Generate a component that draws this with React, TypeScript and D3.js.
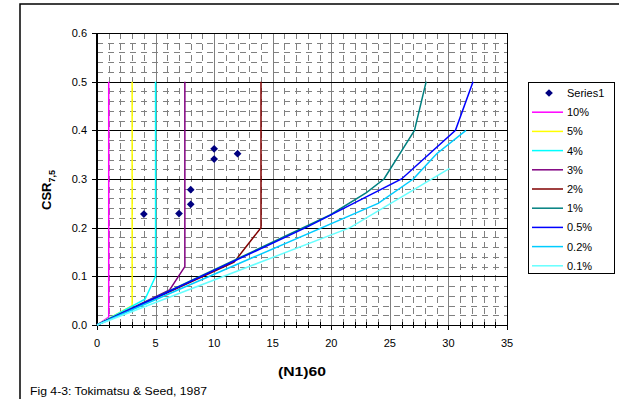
import React from "react";
import * as d3 from "d3";

// observed points (N1)60 vs CSR
const series1X = [4, 7, 8, 8, 10, 10, 12];
const series1Y = [0.228, 0.229, 0.278, 0.248, 0.362, 0.341, 0.352];

// strain curves
const curveNames = ["10%", "5%", "4%", "3%", "2%", "1%", "0.5%", "0.2%", "0.1%"];
const curveColors = ["#FF00FF", "#FFFF00", "#00FFFF", "#800080", "#800000", "#008080", "#0000FF", "#00CCFF", "#66FFFF"];
const curve10 = [[0, 0], [1, 0.016], [1, 0.5]];
const curve5 = [[0, 0], [3, 0.04], [3, 0.5]];
const curve4 = [[0, 0], [4.1, 0.053], [5, 0.1], [5, 0.5]];
const curve3 = [[0, 0], [6.2, 0.072], [7.5, 0.12], [7.5, 0.5]];
const curve2 = [[0, 0], [11.7, 0.129], [14, 0.2], [14, 0.5]];
const curve1 = [[0, 0], [19.9, 0.226], [23, 0.272], [24.5, 0.3], [27.1, 0.4], [28.1, 0.5]];
const curve05 = [[0, 0], [18, 0.202], [26, 0.3], [30.6, 0.4], [32.1, 0.5]];
const curve02 = [[0, 0], [24, 0.25], [27, 0.3], [29, 0.352], [31.5, 0.4]];
const curve01 = [[0, 0], [21.6, 0.2], [30.1, 0.322]];
const curves = [curve10, curve5, curve4, curve3, curve2, curve1, curve05, curve02, curve01];

const xTicks = [0, 5, 10, 15, 20, 25, 30, 35];
const yTicks = [0, 0.1, 0.2, 0.3, 0.4, 0.5, 0.6];

const FONT = "'Liberation Sans', Arial, sans-serif";

export default function App() {
  const x = d3.scaleLinear().domain([0, 35]).range([97, 507]);
  const y = d3.scaleLinear().domain([0, 0.6]).range([325, 33]);
  const px = (v: number) => Math.round(x(v)) + 0.5;
  const py = (v: number) => Math.round(y(v)) + 0.5;
  const line = d3
    .line<number[]>()
    .x((d) => x(d[0]))
    .y((d) => y(d[1]));

  const minorX = d3.range(1, 35).filter((v) => v % 5 !== 0);
  const minorY = d3.range(1, 30).filter((v) => v % 5 !== 0).map((v) => v * 0.02);
  const diamond = d3.symbol(d3.symbolSquare, 30)() as string;

  const legendTop = 82;
  const rowH = 19.2;

  return (
    <div style={{ position: "fixed", left: 0, top: 0 }}>
      <svg width={619} height={399} style={{ display: "block", background: "#fff" }}>
        {/* outer chart frame */}
        <rect x={20} y={4} width={640} height={420} fill="none" stroke="#000" strokeWidth={1.5} />

        {/* minor grid */}
        <g stroke="#808080" strokeWidth={1} strokeDasharray="6 5">
          {minorX.map((v) => (
            <line key={"mx" + v} x1={px(v)} x2={px(v)} y1={y(0.6)} y2={y(0)} />
          ))}
          {minorY.map((v, i) => (
            <line key={"my" + i} x1={x(0)} x2={x(35)} y1={py(v)} y2={py(v)} />
          ))}
        </g>
        {/* major grid */}
        <g strokeWidth={1}>
          {xTicks.slice(1, -1).map((v) => (
            <line key={"gx" + v} stroke="#808080" x1={px(v)} x2={px(v)} y1={y(0.6)} y2={y(0)} />
          ))}
          {yTicks.slice(1).map((v) => (
            <line key={"gy" + v} stroke="#000" x1={x(0)} x2={x(35)} y1={py(v)} y2={py(v)} />
          ))}
          <line stroke="#000" x1={px(35)} x2={px(35)} y1={y(0.6)} y2={y(0)} />
        </g>

        {/* axes */}
        <g stroke="#000">
          <line x1={x(0)} x2={x(35)} y1={py(0)} y2={py(0)} strokeWidth={1} />
          <line x1={x(0)} x2={x(0)} y1={y(0.6)} y2={y(0) + 1} strokeWidth={2} />
          {xTicks.map((v) => (
            <line key={"tx" + v} x1={px(v)} x2={px(v)} y1={y(0)} y2={y(0) + 5} />
          ))}
          {minorX.map((v) => (
            <line key={"tmx" + v} x1={px(v)} x2={px(v)} y1={y(0) - 3} y2={y(0) + 3} />
          ))}
          {yTicks.map((v) => (
            <line key={"ty" + v} x1={x(0) - 5} x2={x(0)} y1={py(v)} y2={py(v)} />
          ))}
        </g>
        <g fontFamily={FONT} fontSize={11} fill="#000">
          {xTicks.map((v) => (
            <text key={"lx" + v} x={x(v)} y={347} textAnchor="middle">{v}</text>
          ))}
          {yTicks.map((v) => (
            <text key={"ly" + v} x={87} y={y(v) + 4} textAnchor="end">{v.toFixed(1)}</text>
          ))}
        </g>

        {/* curves */}
        <g fill="none" strokeWidth={1.5}>
          {curves.map((c, i) => (
            <path key={curveNames[i]} d={line(c) as string} stroke={curveColors[i]} />
          ))}
        </g>

        {/* observed points */}
        <g fill="#000080">
          {series1X.map((v, i) => (
            <path key={"p" + i} d={diamond} transform={`translate(${x(v)},${y(series1Y[i])}) rotate(45)`} />
          ))}
        </g>

        {/* axis titles */}
        <text x={278} y={376} textLength={48} lengthAdjust="spacingAndGlyphs" fontFamily={FONT} fontSize={13.5} fontWeight="bold">(N1)60</text>
        <text transform="translate(51,190) rotate(-90)" textAnchor="middle" fontFamily={FONT} fontSize={13} fontWeight="bold">
          CSR<tspan fontSize={9} dy={4}>7,5</tspan>
        </text>
        <text x={30} y={395} textLength={177} lengthAdjust="spacingAndGlyphs" fontFamily={FONT} fontSize={10.5}>Fig 4-3: Tokimatsu &amp; Seed, 1987</text>

        {/* legend */}
        <rect x={528.5} y={legendTop + 0.5} width={86} height={191} fill="#fff" stroke="#000" strokeWidth={1} />
        <g fontFamily={FONT} fontSize={11}>
          <path d={diamond} fill="#000080" transform={`translate(549,${legendTop + 11}) rotate(45)`} />
          <text x={567} y={legendTop + 15}>Series1</text>
          {curveNames.map((n, i) => {
            const cy = legendTop + 11 + rowH * (i + 1);
            return (
              <g key={"lg" + n}>
                <line x1={532} x2={563} y1={cy} y2={cy} stroke={curveColors[i]} strokeWidth={1.5} />
                <text x={567} y={cy + 4}>{n}</text>
              </g>
            );
          })}
        </g>
      </svg>
    </div>
  );
}
